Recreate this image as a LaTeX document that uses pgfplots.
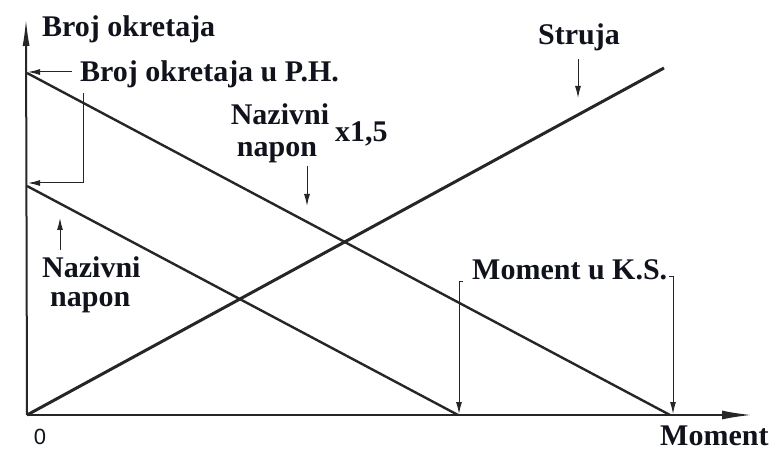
\documentclass[border=0pt]{standalone}
\usepackage{pgfplots}
\pgfplotsset{compat=1.18}
\usepackage{fontspec}
\setmainfont{Liberation Serif}
\setsansfont{Liberation Sans}
\usetikzlibrary{arrows.meta}
\definecolor{ink}{HTML}{262626}
\definecolor{txt}{HTML}{10131C}
\tikzset{
    lbl/.style={font=\bfseries\fontsize{30}{32}\selectfont, text=txt, inner sep=0pt},
    ann/.style={ink, line width=1pt, -{Latex[length=12pt,width=6pt]}},
}
\begin{document}
\begin{tikzpicture}
\begin{axis}[
    scale only axis,
    width=776pt,
    height=450pt,
    xmin=-27, xmax=749,
    ymin=-35, ymax=415,
    axis lines=none,
    xtick=\empty, ytick=\empty,
    clip=false,
]
% frame of the whole picture
\path (axis cs:-27,-35) rectangle (axis cs:749,415);
% axes
\addplot[ink, line width=2pt, -{Latex[length=30pt,width=9pt]}] coordinates {(0,0) (725,0)};
\addplot[ink, line width=2pt, -{Latex[length=28pt,width=7pt]}] coordinates {(0,0) (-1,397)};
% speed at 1.5 x rated voltage, speed at rated voltage, current
\addplot[ink, line width=2.4pt] coordinates {(0,342) (643,0)};
\addplot[ink, line width=2.4pt] coordinates {(0,229) (431,0)};
\addplot[ink, line width=3pt] coordinates {(0,0) (637,347)};

% annotations
\draw[ann] (axis cs:45,343) -- (axis cs:1,343);
\draw[ann] (axis cs:56,322) -- (axis cs:56,232) -- (axis cs:1,232);
\draw[ann] (axis cs:280,249) -- (axis cs:280,209);
\draw[ann] (axis cs:551,356) -- (axis cs:551,317);
\draw[ann] (axis cs:33,165) -- (axis cs:33,197);
\draw[ann] (axis cs:436,133) -- (axis cs:432,133) -- (axis cs:432,1);
\draw[ann] (axis cs:642,138) -- (axis cs:646,138) -- (axis cs:646,1);

\node[lbl, anchor=base west] at (axis cs:15,378) {Broj okretaja};
\node[lbl, anchor=base west] at (axis cs:53,333) {Broj okretaja u P.H.};
\node[lbl, anchor=base] at (axis cs:253,290) {Nazivni};
\node[lbl, anchor=base] at (axis cs:250,258) {napon};
\node[lbl, anchor=base west] at (axis cs:308,273) {x1,5};
\node[lbl, anchor=base west] at (axis cs:511,370) {Struja};
\node[lbl, anchor=base west] at (axis cs:445,135) {Moment u K.S.};
\node[lbl, anchor=base west] at (axis cs:633,-30) {Moment};
\node[lbl, anchor=base west] at (axis cs:15,137) {Nazivni};
\node[lbl, anchor=base west] at (axis cs:23,108) {napon};
\node[font=\sffamily\fontsize{22}{24}\selectfont, text=txt, inner sep=0pt] at (axis cs:13,-22) {0};
\end{axis}
\end{tikzpicture}
\end{document}
